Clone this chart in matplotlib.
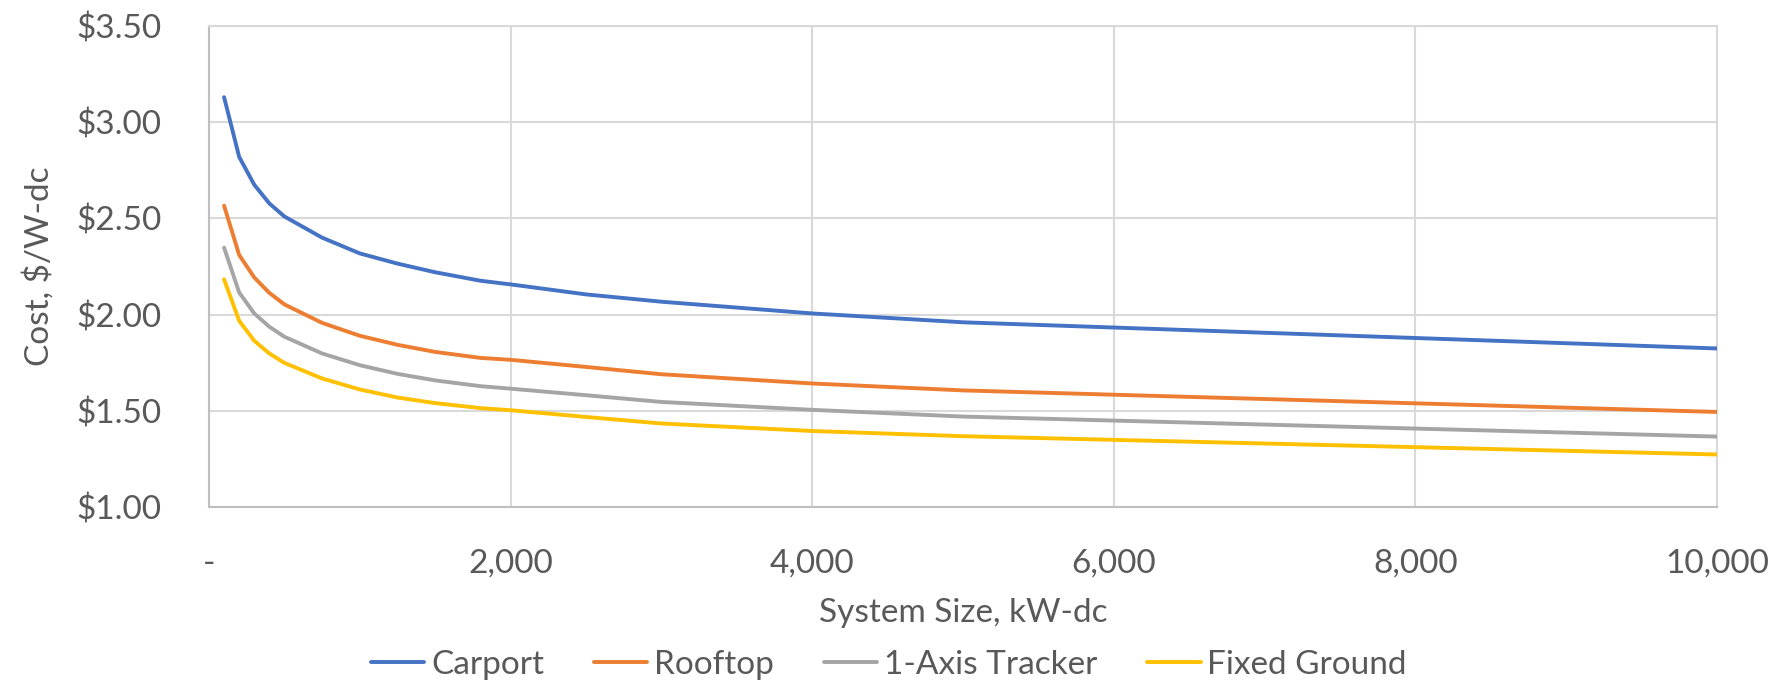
import matplotlib
matplotlib.use("Agg")
import matplotlib.pyplot as plt
from matplotlib.ticker import FuncFormatter

plt.rcParams["font.family"] = ["Lato", "DejaVu Sans"]

# ── 数据 ──
system_size = [100, 200, 300, 400, 500, 750, 1000, 1250, 1500, 1800,
               2000, 2500, 3000, 4000, 5000, 10000]
carport = [3.13, 2.82, 2.675, 2.578, 2.51, 2.40, 2.318, 2.265, 2.22, 2.176,
           2.157, 2.105, 2.067, 2.006, 1.96, 1.824]
rooftop = [2.566, 2.31, 2.193, 2.113, 2.053, 1.957, 1.89, 1.843, 1.806, 1.775,
           1.765, 1.728, 1.69, 1.642, 1.606, 1.494]
tracker = [2.348, 2.115, 2.006, 1.937, 1.885, 1.798, 1.737, 1.692, 1.658, 1.628,
           1.615, 1.581, 1.546, 1.505, 1.47, 1.366]
fixed_ground = [2.183, 1.968, 1.864, 1.798, 1.749, 1.668, 1.611, 1.569, 1.54, 1.514,
                1.503, 1.468, 1.434, 1.395, 1.368, 1.273]

series = [
    ("Carport", carport, "#4472C4"),
    ("Rooftop", rooftop, "#ED7D31"),
    ("1-Axis Tracker", tracker, "#A5A5A5"),
    ("Fixed Ground", fixed_ground, "#FFC000"),
]

TEXT = "#595959"
GRID = "#D9D9D9"
FS = 24

fig = plt.figure(figsize=(17.78, 6.87), dpi=100)
ax = fig.add_axes([209 / 1778, 1 - 507 / 687, (1717 - 209) / 1778, (507 - 26) / 687])

for label, vals, c in series:
    ax.plot(system_size, vals, color=c, linewidth=2.8, label=label,
            solid_capstyle="round", zorder=3)

ax.set_xlim(0, 10000)
ax.set_ylim(1.0, 3.5)
ax.set_xticks([0, 2000, 4000, 6000, 8000, 10000])
ax.set_yticks([1.0, 1.5, 2.0, 2.5, 3.0, 3.5])
ax.xaxis.set_major_formatter(FuncFormatter(lambda v, p: "-" if v == 0 else f"{v:,.0f}"))
ax.yaxis.set_major_formatter(FuncFormatter(lambda v, p: f"${v:.2f}"))

ax.grid(True, color=GRID, linewidth=1.5, zorder=0)
for s in ax.spines.values():
    s.set_color(GRID)
    s.set_linewidth(1.5)
ax.spines["left"].set_color("#BFBFBF")
ax.spines["bottom"].set_color("#BFBFBF")

ax.tick_params(axis="both", length=0, labelsize=FS, colors=TEXT)
ax.tick_params(axis="y", pad=34)
ax.tick_params(axis="x", pad=30)

ax.set_xlabel("System Size, kW-dc", fontsize=FS, color=TEXT, labelpad=14)
ax.set_ylabel("Cost, $/W-dc", fontsize=FS, color=TEXT, labelpad=16)

fig.legend(loc="center", bbox_to_anchor=(0.5, 1 - 665 / 687), ncol=4,
           frameon=False, fontsize=FS, labelcolor=TEXT,
           handlelength=1.6, handletextpad=0.2, columnspacing=1.5)

fig.savefig("out.png", dpi=100, facecolor="white")
